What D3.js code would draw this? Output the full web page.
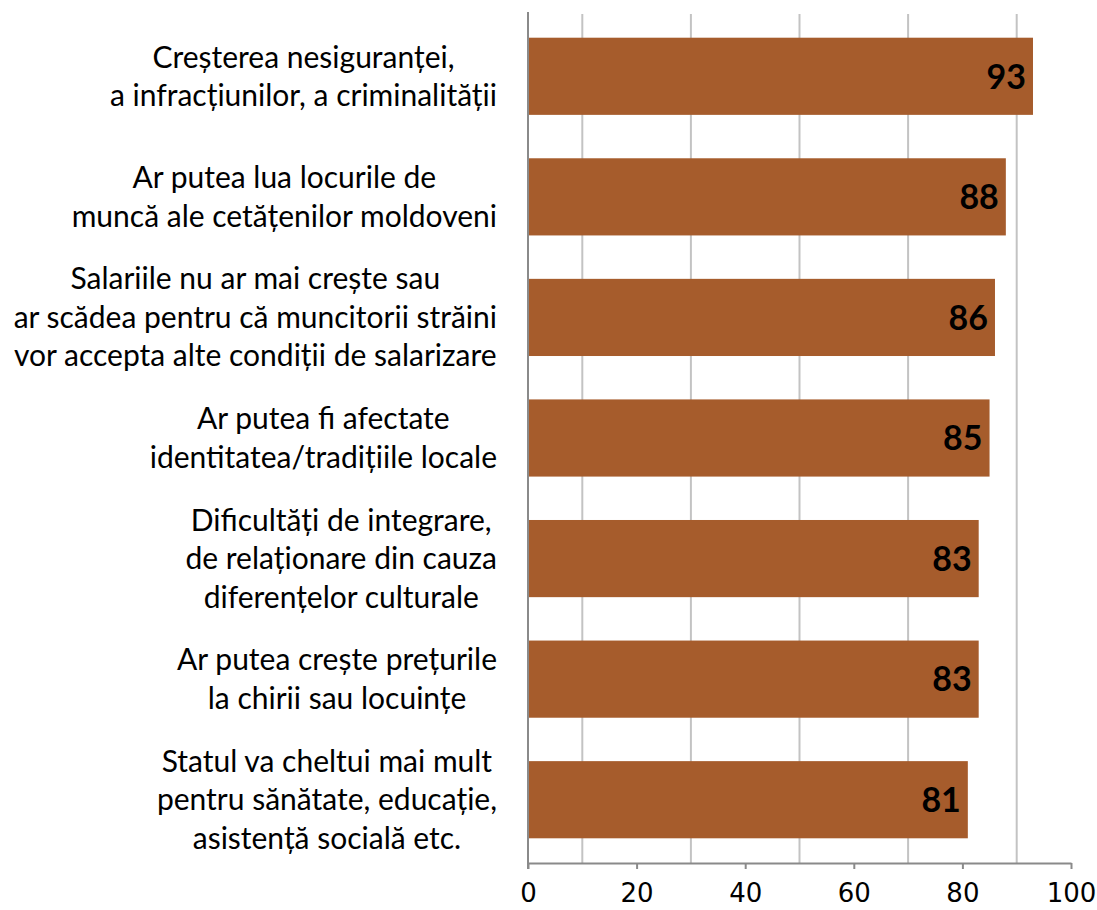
<!DOCTYPE html>
<html>
<head>
<meta charset="utf-8">
<script src="https://d3js.org/d3.v7.min.js"></script>
<style>
  body { margin: 0; background: #fff; }
  svg { display: block; }
</style>
</head>
<body>
<div id="chart"></div>
<script>
// categories (label lines), top to bottom
const categories = [
  ["Creșterea nesiguranței,", "a infracțiunilor, a criminalității"],
  ["Ar putea lua locurile de", "muncă ale cetățenilor moldoveni"],
  ["Salariile nu ar mai crește sau", "ar scădea pentru că muncitorii străini", "vor accepta alte condiții de salarizare"],
  ["Ar putea fi afectate", "identitatea/tradițiile locale"],
  ["Dificultăți de integrare,", "de relaționare din cauza", "diferențelor culturale"],
  ["Ar putea crește prețurile", "la chirii sau locuințe"],
  ["Statul va cheltui mai mult", "pentru sănătate, educație,", "asistență socială etc."]
];
const values = [93, 88, 86, 85, 83, 83, 81];
const tickValues = [0, 20, 40, 60, 80, 100];
const gridValues = [10, 30, 50, 70, 90];

const width = 1097, height = 910;
const labelFont = "Lato, 'Noto Sans', sans-serif";

const svg = d3.select("#chart").append("svg")
    .attr("width", width)
    .attr("height", height);

const x = d3.scaleLinear().domain([0, 100]).range([528, 1071]);
const y = d3.scaleBand()
    .domain(d3.range(categories.length))
    .range([16, 860])
    .paddingInner(0.36)
    .paddingOuter(0.18);

const axisY = 863;

// gridlines at odd tens
svg.append("g").selectAll("line")
  .data(gridValues)
  .join("line")
    .attr("x1", d => x(d)).attr("x2", d => x(d))
    .attr("y1", 14).attr("y2", axisY)
    .attr("stroke", "#c3c3c3")
    .attr("stroke-width", 2);

// bars
svg.append("g").selectAll("rect")
  .data(values)
  .join("rect")
    .attr("x", x(0))
    .attr("y", (d, i) => y(i))
    .attr("width", d => x(d) - x(0))
    .attr("height", y.bandwidth())
    .attr("fill", "#a65c2c");

// value labels
svg.append("g").selectAll("text")
  .data(values)
  .join("text")
    .attr("x", d => x(d) - 7)
    .attr("y", (d, i) => y(i) + y.bandwidth() / 2)
    .attr("dy", "0.36em")
    .attr("text-anchor", "end")
    .style("font-family", labelFont)
    .style("font-weight", "bold")
    .style("font-size", "34px")
    .attr("fill", "#000")
    .text(d => d);

// vertical axis line
svg.append("line")
  .attr("x1", x(0)).attr("x2", x(0))
  .attr("y1", 12).attr("y2", axisY + 6)
  .attr("stroke", "#8a8a8a")
  .attr("stroke-width", 2);

// bottom axis
const xAxis = d3.axisBottom(x)
    .tickValues(tickValues)
    .tickSizeInner(6)
    .tickSizeOuter(0)
    .tickPadding(15)
    .tickFormat(d3.format("d"));

const gx = svg.append("g")
  .attr("transform", `translate(0,${axisY})`)
  .call(xAxis);
gx.select(".domain").attr("stroke", "#8a8a8a").attr("stroke-width", 2);
gx.selectAll(".tick line").attr("stroke", "#8a8a8a").attr("stroke-width", 2);
gx.selectAll(".tick text")
  .style("font-family", "'DejaVu Sans', sans-serif")
  .style("font-size", "26px")
  .attr("fill", "#000");

// category labels, each block centred and right-aligned to the axis gap
const rightEdge = 497;
const lineH = 38.5;
const labels = svg.append("g");
categories.forEach((lines, i) => {
  const g = labels.append("g");
  const cy = y(i) + y.bandwidth() / 2;
  const t = g.selectAll("text")
    .data(lines)
    .join("text")
      .attr("y", (d, j) => cy + (j - (lines.length - 1) / 2) * lineH)
      .attr("dy", "0.35em")
      .attr("text-anchor", "middle")
      .style("font-family", labelFont)
      .style("font-size", "30px")
      .attr("fill", "#000")
      .text(d => d);
  let maxW = 0;
  t.each(function() { maxW = Math.max(maxW, this.getComputedTextLength()); });
  t.attr("x", rightEdge - maxW / 2);
});
</script>
</body>
</html>
